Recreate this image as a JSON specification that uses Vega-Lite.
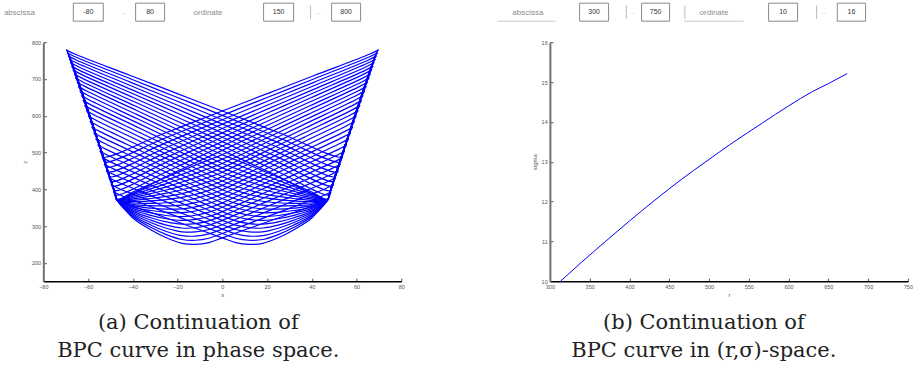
{
"$schema":"https://vega.github.io/schema/vega-lite/v6.json",
"background":"white",
"padding":{"left":3.3,"top":2.2,"right":0,"bottom":0},
"config":{
 "view":{"stroke":null},
 "axis":{"grid":false,"labelFont":"Liberation Sans","labelFontSize":5.5,"labelColor":"#555","titleFont":"Liberation Sans","titleFontSize":6,"titleFontWeight":"normal","titleColor":"#555","tickColor":"#222","tickSize":-3,"tickWidth":0.8,"labelPadding":6,"domainColor":"#000","domainWidth":1.5,"labelFlush":false,"labelOverlap":false},
 "axisY":{"domainColor":"#707070","domainWidth":2,"labelPadding":5.7,"titlePadding":4,"labelOverlap":false},
 "axisX":{"titlePadding":2}
},
"datasets":{
 "uiL":[
  {"t":"lab","a":-39.4,"v":"abscissa"},{"t":"box","a":30,"b":60},{"t":"val","a":45,"v":"-80"},{"t":"dash","a":81.3},{"t":"box","a":92.3,"b":121.3},{"t":"val","a":106.8,"v":"80"},
  {"t":"lab","a":150.3,"v":"ordinate"},{"t":"box","a":220.3,"b":250.3},{"t":"val","a":235.3,"v":"150"},{"t":"bar","a":267.3},{"t":"dash","a":275.3},{"t":"box","a":288.3,"b":317.3},{"t":"val","a":302.8,"v":"800"}
 ],
 "uiR":[
  {"t":"line","a":-52.6,"b":5.7},{"t":"lab","a":-37.6,"v":"abscissa"},{"t":"box","a":29.7,"b":58.7},{"t":"val","a":44.2,"v":"300"},{"t":"bar","a":76.4},{"t":"dash","a":82.7},{"t":"box","a":91.7,"b":119.7},{"t":"val","a":105.7,"v":"750"},
  {"t":"bar","a":135},{"t":"line","a":134.7,"b":193.7},{"t":"lab","a":149.7,"v":"ordinate"},{"t":"box","a":218.7,"b":247.7},{"t":"val","a":233.2,"v":"10"},{"t":"bar","a":266.7},{"t":"dash","a":273.7},{"t":"box","a":287.4,"b":315.7},{"t":"val","a":301.5,"v":"16"}
 ],
 "bpc":[
  {"r":313.4,"s":10.0},{"r":340,"s":10.48},{"r":370,"s":11.0},{"r":400,"s":11.51},{"r":431,"s":12.02},{"r":465,"s":12.55},{"r":496,"s":13.0},{"r":530,"s":13.48},{"r":567,"s":13.97},{"r":600,"s":14.4},{"r":630,"s":14.76},{"r":649,"s":14.95},{"r":673.6,"s":15.21}
 ],
 "orb":[
  {"o":0,"i":0,"x":-69.6,"z":778.5},{"o":0,"i":1,"x":-66.0,"z":768.0},{"o":0,"i":2,"x":-41.4,"z":710.2},{"o":0,"i":3,"x":-20.7,"z":661.6},{"o":0,"i":4,"x":0,"z":613.0},{"o":0,"i":5,"x":26.7,"z":550.4},{"o":0,"i":6,"x":53.3,"z":487.8},{"o":0,"i":6.5,"x":54.1,"z":502.8},{"o":0,"i":7,"x":68.2,"z":761.0},{"o":0,"i":8,"x":69.6,"z":778.5},
  {"o":1,"i":0,"x":-69.2,"z":770.5},{"o":1,"i":1,"x":-65.6,"z":759.7},{"o":1,"i":2,"x":-41.1,"z":700.6},{"o":1,"i":3,"x":-20.6,"z":650.9},{"o":1,"i":4,"x":0,"z":601.1},{"o":1,"i":5,"x":26.3,"z":537.5},{"o":1,"i":6,"x":52.6,"z":473.9},{"o":1,"i":6.5,"x":53.4,"z":488.9},{"o":1,"i":7,"x":67.8,"z":753.0},{"o":1,"i":8,"x":69.2,"z":770.5},
  {"o":2,"i":0,"x":-68.7,"z":762.1},{"o":2,"i":1,"x":-65.1,"z":751.1},{"o":2,"i":2,"x":-40.9,"z":690.8},{"o":2,"i":3,"x":-20.4,"z":640.0},{"o":2,"i":4,"x":0,"z":589.2},{"o":2,"i":5,"x":25.9,"z":524.8},{"o":2,"i":6,"x":51.8,"z":460.3},{"o":2,"i":6.5,"x":52.6,"z":475.3},{"o":2,"i":7,"x":67.3,"z":744.6},{"o":2,"i":8,"x":68.7,"z":762.1},
  {"o":3,"i":0,"x":-68.2,"z":753.2},{"o":3,"i":1,"x":-64.6,"z":742.1},{"o":3,"i":2,"x":-40.6,"z":680.7},{"o":3,"i":3,"x":-20.3,"z":629.0},{"o":3,"i":4,"x":0,"z":577.3},{"o":3,"i":5,"x":25.5,"z":512.2},{"o":3,"i":6,"x":51.1,"z":447.0},{"o":3,"i":6.5,"x":51.9,"z":462.0},{"o":3,"i":7,"x":66.8,"z":735.7},{"o":3,"i":8,"x":68.2,"z":753.2},
  {"o":4,"i":0,"x":-67.7,"z":743.9},{"o":4,"i":1,"x":-64.1,"z":732.6},{"o":4,"i":2,"x":-40.3,"z":670.4},{"o":4,"i":3,"x":-20.1,"z":617.9},{"o":4,"i":4,"x":0,"z":565.4},{"o":4,"i":5,"x":25.2,"z":499.7},{"o":4,"i":6,"x":50.4,"z":434.0},{"o":4,"i":6.5,"x":51.2,"z":449.0},{"o":4,"i":7,"x":66.3,"z":726.4},{"o":4,"i":8,"x":67.7,"z":743.9},
  {"o":5,"i":0,"x":-67.2,"z":734.2},{"o":5,"i":1,"x":-63.6,"z":722.7},{"o":5,"i":2,"x":-39.9,"z":659.8},{"o":5,"i":3,"x":-20.0,"z":606.7},{"o":5,"i":4,"x":0,"z":553.5},{"o":5,"i":5,"x":24.8,"z":487.4},{"o":5,"i":6,"x":49.7,"z":421.3},{"o":5,"i":6.5,"x":50.5,"z":436.3},{"o":5,"i":7,"x":65.8,"z":716.7},{"o":5,"i":8,"x":67.2,"z":734.2},
  {"o":6,"i":0,"x":-66.6,"z":724.1},{"o":6,"i":1,"x":-63.0,"z":712.5},{"o":6,"i":2,"x":-39.6,"z":649.0},{"o":6,"i":3,"x":-19.8,"z":595.3},{"o":6,"i":4,"x":0,"z":541.6},{"o":6,"i":5,"x":24.5,"z":475.2},{"o":6,"i":6,"x":49.0,"z":408.8},{"o":6,"i":6.5,"x":49.8,"z":423.8},{"o":6,"i":7,"x":65.2,"z":706.6},{"o":6,"i":8,"x":66.6,"z":724.1},
  {"o":7,"i":0,"x":-66.1,"z":713.5},{"o":7,"i":1,"x":-62.5,"z":701.7},{"o":7,"i":2,"x":-39.3,"z":637.9},{"o":7,"i":3,"x":-19.6,"z":583.8},{"o":7,"i":4,"x":0,"z":529.7},{"o":7,"i":5,"x":24.2,"z":463.1},{"o":7,"i":6,"x":48.3,"z":396.5},{"o":7,"i":6.5,"x":49.1,"z":411.5},{"o":7,"i":7,"x":64.7,"z":696.0},{"o":7,"i":8,"x":66.1,"z":713.5},
  {"o":8,"i":0,"x":-65.5,"z":702.5},{"o":8,"i":1,"x":-61.9,"z":690.6},{"o":8,"i":2,"x":-38.9,"z":626.5},{"o":8,"i":3,"x":-19.5,"z":572.2},{"o":8,"i":4,"x":0,"z":517.8},{"o":8,"i":5,"x":23.8,"z":451.2},{"o":8,"i":6,"x":47.7,"z":384.6},{"o":8,"i":6.5,"x":48.5,"z":399.6},{"o":8,"i":7,"x":64.1,"z":685.0},{"o":8,"i":8,"x":65.5,"z":702.5},
  {"o":9,"i":0,"x":-64.8,"z":691.1},{"o":9,"i":1,"x":-61.2,"z":679.1},{"o":9,"i":2,"x":-38.5,"z":614.9},{"o":9,"i":3,"x":-19.3,"z":560.4},{"o":9,"i":4,"x":0,"z":505.9},{"o":9,"i":5,"x":23.5,"z":439.4},{"o":9,"i":6,"x":47.0,"z":372.8},{"o":9,"i":6.5,"x":47.9,"z":387.8},{"o":9,"i":7,"x":63.4,"z":673.6},{"o":9,"i":8,"x":64.8,"z":691.1},
  {"o":10,"i":0,"x":-64.2,"z":679.2},{"o":10,"i":1,"x":-60.6,"z":667.1},{"o":10,"i":2,"x":-38.1,"z":603.0},{"o":10,"i":3,"x":-19.1,"z":548.5},{"o":10,"i":4,"x":0,"z":494.0},{"o":10,"i":5,"x":6,"z":480.1},{"o":10,"i":6,"x":12,"z":465.8},{"o":10,"i":7,"x":18,"z":450.8},{"o":10,"i":8,"x":25,"z":432.7},{"o":10,"i":9,"x":32,"z":414.1},{"o":10,"i":10,"x":40,"z":392.4},{"o":10,"i":11,"x":47,"z":372.0},{"o":10,"i":11.5,"x":48.0,"z":390},{"o":10,"i":12,"x":62.8,"z":661.7},{"o":10,"i":13,"x":64.2,"z":679.2},
  {"o":11,"i":0,"x":-63.5,"z":666.9},{"o":11,"i":1,"x":-59.9,"z":654.8},{"o":11,"i":2,"x":-37.7,"z":590.9},{"o":11,"i":3,"x":-18.9,"z":536.5},{"o":11,"i":4,"x":0,"z":482.1},{"o":11,"i":5,"x":6,"z":468.3},{"o":11,"i":6,"x":12,"z":454.4},{"o":11,"i":7,"x":18,"z":440.4},{"o":11,"i":8,"x":25,"z":424.0},{"o":11,"i":9,"x":32,"z":407.6},{"o":11,"i":10,"x":40,"z":388.7},{"o":11,"i":11,"x":47,"z":371.9},{"o":11,"i":11.5,"x":48.0,"z":390},{"o":11,"i":12,"x":62.1,"z":649.4},{"o":11,"i":13,"x":63.5,"z":666.9},
  {"o":12,"i":0,"x":-62.8,"z":654.2},{"o":12,"i":1,"x":-59.2,"z":642.0},{"o":12,"i":2,"x":-37.3,"z":578.5},{"o":12,"i":3,"x":-18.7,"z":524.4},{"o":12,"i":4,"x":0,"z":470.2},{"o":12,"i":5,"x":6,"z":456.5},{"o":12,"i":6,"x":12,"z":443.1},{"o":12,"i":7,"x":18,"z":430.1},{"o":12,"i":8,"x":25,"z":415.4},{"o":12,"i":9,"x":32,"z":401.0},{"o":12,"i":10,"x":40,"z":385.0},{"o":12,"i":11,"x":47,"z":371.8},{"o":12,"i":11.5,"x":48.0,"z":390},{"o":12,"i":12,"x":61.4,"z":636.7},{"o":12,"i":13,"x":62.8,"z":654.2},
  {"o":13,"i":0,"x":-62.1,"z":641.1},{"o":13,"i":1,"x":-58.5,"z":628.9},{"o":13,"i":2,"x":-36.9,"z":565.9},{"o":13,"i":3,"x":-18.5,"z":512.1},{"o":13,"i":4,"x":0,"z":458.3},{"o":13,"i":5,"x":6,"z":444.7},{"o":13,"i":6,"x":12,"z":431.8},{"o":13,"i":7,"x":18,"z":419.7},{"o":13,"i":8,"x":25,"z":406.7},{"o":13,"i":9,"x":32,"z":394.5},{"o":13,"i":10,"x":40,"z":381.3},{"o":13,"i":11,"x":47,"z":371.7},{"o":13,"i":11.5,"x":48.0,"z":390},{"o":13,"i":12,"x":60.7,"z":623.6},{"o":13,"i":13,"x":62.1,"z":641.1},
  {"o":14,"i":0,"x":-61.4,"z":627.5},{"o":14,"i":1,"x":-57.8,"z":615.2},{"o":14,"i":2,"x":-36.5,"z":553.0},{"o":14,"i":3,"x":-18.2,"z":499.7},{"o":14,"i":4,"x":0,"z":446.4},{"o":14,"i":5,"x":6,"z":432.8},{"o":14,"i":6,"x":12,"z":420.4},{"o":14,"i":7,"x":18,"z":409.3},{"o":14,"i":8,"x":25,"z":398.1},{"o":14,"i":9,"x":32,"z":388.0},{"o":14,"i":10,"x":40,"z":377.6},{"o":14,"i":11,"x":47,"z":371.6},{"o":14,"i":11.5,"x":48.0,"z":390},{"o":14,"i":12,"x":60.0,"z":610.0},{"o":14,"i":13,"x":61.4,"z":627.5},
  {"o":15,"i":0,"x":-60.6,"z":613.5},{"o":15,"i":1,"x":-57.0,"z":601.2},{"o":15,"i":2,"x":-36.0,"z":539.8},{"o":15,"i":3,"x":-18.0,"z":487.2},{"o":15,"i":4,"x":0,"z":434.5},{"o":15,"i":5,"x":6,"z":420.8},{"o":15,"i":6,"x":12,"z":408.9},{"o":15,"i":7,"x":18,"z":398.7},{"o":15,"i":8,"x":25,"z":389.3},{"o":15,"i":9,"x":32,"z":381.4},{"o":15,"i":10,"x":40,"z":373.8},{"o":15,"i":11,"x":47,"z":371.5},{"o":15,"i":11.5,"x":48.0,"z":390},{"o":15,"i":12,"x":59.2,"z":596.0},{"o":15,"i":13,"x":60.6,"z":613.5},
  {"o":16,"i":0,"x":-59.8,"z":599.1},{"o":16,"i":1,"x":-56.2,"z":586.8},{"o":16,"i":2,"x":-35.5,"z":526.4},{"o":16,"i":3,"x":-17.8,"z":474.5},{"o":16,"i":4,"x":0,"z":422.6},{"o":16,"i":5,"x":6,"z":409.0},{"o":16,"i":6,"x":12,"z":397.5},{"o":16,"i":7,"x":18,"z":388.3},{"o":16,"i":8,"x":25,"z":380.6},{"o":16,"i":9,"x":32,"z":374.9},{"o":16,"i":10,"x":40,"z":370.1},{"o":16,"i":11,"x":47,"z":371.4},{"o":16,"i":11.5,"x":48.0,"z":390},{"o":16,"i":12,"x":58.4,"z":581.6},{"o":16,"i":13,"x":59.8,"z":599.1},
  {"o":17,"i":0,"x":-59.0,"z":584.2},{"o":17,"i":1,"x":-55.4,"z":572.0},{"o":17,"i":2,"x":-35.0,"z":512.7},{"o":17,"i":3,"x":-17.5,"z":461.7},{"o":17,"i":4,"x":0,"z":410.7},{"o":17,"i":5,"x":6,"z":397.1},{"o":17,"i":6,"x":12,"z":386.2},{"o":17,"i":7,"x":18,"z":377.9},{"o":17,"i":8,"x":25,"z":372.0},{"o":17,"i":9,"x":32,"z":368.3},{"o":17,"i":10,"x":40,"z":366.4},{"o":17,"i":11,"x":47,"z":371.3},{"o":17,"i":11.5,"x":48.0,"z":390},{"o":17,"i":12,"x":57.6,"z":566.7},{"o":17,"i":13,"x":59.0,"z":584.2},
  {"o":18,"i":0,"x":-58.2,"z":568.9},{"o":18,"i":1,"x":-54.6,"z":556.7},{"o":18,"i":2,"x":-34.5,"z":498.8},{"o":18,"i":3,"x":-17.3,"z":448.8},{"o":18,"i":4,"x":0,"z":398.8},{"o":18,"i":5,"x":6,"z":385.3},{"o":18,"i":6,"x":12,"z":374.9},{"o":18,"i":7,"x":18,"z":367.5},{"o":18,"i":8,"x":25,"z":363.3},{"o":18,"i":9,"x":32,"z":361.8},{"o":18,"i":10,"x":40,"z":362.7},{"o":18,"i":11,"x":47,"z":371.2},{"o":18,"i":11.5,"x":48.0,"z":390},{"o":18,"i":12,"x":56.8,"z":551.4},{"o":18,"i":13,"x":58.2,"z":568.9},
  {"o":19,"i":0,"x":-57.3,"z":553.2},{"o":19,"i":1,"x":-53.7,"z":541.1},{"o":19,"i":2,"x":-34.0,"z":484.6},{"o":19,"i":3,"x":-17.0,"z":435.7},{"o":19,"i":4,"x":0,"z":386.9},{"o":19,"i":5,"x":6,"z":373.5},{"o":19,"i":6,"x":12,"z":363.5},{"o":19,"i":7,"x":18,"z":357.1},{"o":19,"i":8,"x":25,"z":354.7},{"o":19,"i":9,"x":32,"z":355.3},{"o":19,"i":10,"x":40,"z":359.0},{"o":19,"i":11,"x":47,"z":371.1},{"o":19,"i":11.5,"x":48.0,"z":390},{"o":19,"i":12,"x":55.9,"z":535.7},{"o":19,"i":13,"x":57.3,"z":553.2},
  {"o":20,"i":0,"x":-56.4,"z":537.1},{"o":20,"i":1,"x":-52.8,"z":525.1},{"o":20,"i":2,"x":-33.5,"z":470.2},{"o":20,"i":3,"x":-16.7,"z":422.6},{"o":20,"i":4,"x":0,"z":375.0},{"o":20,"i":5,"x":6,"z":361.7},{"o":20,"i":6,"x":12,"z":352.2},{"o":20,"i":7,"x":18,"z":346.7},{"o":20,"i":8,"x":25,"z":346.0},{"o":20,"i":9,"x":32,"z":348.8},{"o":20,"i":10,"x":40,"z":355.3},{"o":20,"i":11,"x":47,"z":371.0},{"o":20,"i":11.5,"x":48.0,"z":390},{"o":20,"i":12,"x":55.0,"z":519.6},{"o":20,"i":13,"x":56.4,"z":537.1},
  {"o":21,"i":0,"x":-55.5,"z":520.5},{"o":21,"i":1,"x":-51.9,"z":508.6},{"o":21,"i":2,"x":-32.9,"z":455.4},{"o":21,"i":3,"x":-16.5,"z":409.3},{"o":21,"i":4,"x":0,"z":363.1},{"o":21,"i":5,"x":6,"z":349.8},{"o":21,"i":6,"x":12,"z":340.9},{"o":21,"i":7,"x":18,"z":336.3},{"o":21,"i":8,"x":25,"z":337.4},{"o":21,"i":9,"x":32,"z":342.3},{"o":21,"i":10,"x":40,"z":351.6},{"o":21,"i":11,"x":47,"z":370.9},{"o":21,"i":11.5,"x":48.0,"z":390},{"o":21,"i":12,"x":54.1,"z":503.0},{"o":21,"i":13,"x":55.5,"z":520.5},
  {"o":22,"i":0,"x":-54.6,"z":503.5},{"o":22,"i":1,"x":-51.0,"z":491.7},{"o":22,"i":2,"x":-32.4,"z":440.5},{"o":22,"i":3,"x":-16.2,"z":395.8},{"o":22,"i":4,"x":0,"z":351.2},{"o":22,"i":5,"x":6,"z":337.8},{"o":22,"i":6,"x":12,"z":329.3},{"o":22,"i":7,"x":18,"z":325.8},{"o":22,"i":8,"x":25,"z":328.6},{"o":22,"i":9,"x":32,"z":335.6},{"o":22,"i":10,"x":40,"z":347.9},{"o":22,"i":11,"x":47,"z":370.7},{"o":22,"i":11.5,"x":48.0,"z":390},{"o":22,"i":12,"x":53.2,"z":486.0},{"o":22,"i":13,"x":54.6,"z":503.5},
  {"o":23,"i":0,"x":-53.6,"z":486.1},{"o":23,"i":1,"x":-50.0,"z":474.5},{"o":23,"i":2,"x":-31.8,"z":425.3},{"o":23,"i":3,"x":-15.9,"z":382.3},{"o":23,"i":4,"x":0,"z":339.3},{"o":23,"i":5,"x":6,"z":326.0},{"o":23,"i":6,"x":12,"z":318.0},{"o":23,"i":7,"x":18,"z":315.4},{"o":23,"i":8,"x":25,"z":319.9},{"o":23,"i":9,"x":32,"z":329.1},{"o":23,"i":10,"x":40,"z":344.2},{"o":23,"i":11,"x":47,"z":370.6},{"o":23,"i":11.5,"x":48.0,"z":390},{"o":23,"i":12,"x":52.2,"z":468.6},{"o":23,"i":13,"x":53.6,"z":486.1},
  {"o":24,"i":0,"x":-52.7,"z":468.2},{"o":24,"i":1,"x":-49.1,"z":456.8},{"o":24,"i":2,"x":-31.2,"z":409.8},{"o":24,"i":3,"x":-15.6,"z":368.6},{"o":24,"i":4,"x":0,"z":327.4},{"o":24,"i":5,"x":6,"z":314.1},{"o":24,"i":6,"x":12,"z":306.7},{"o":24,"i":7,"x":18,"z":305.0},{"o":24,"i":8,"x":25,"z":311.3},{"o":24,"i":9,"x":32,"z":322.6},{"o":24,"i":10,"x":40,"z":340.5},{"o":24,"i":11,"x":47,"z":370.5},{"o":24,"i":11.5,"x":48.0,"z":390},{"o":24,"i":12,"x":51.3,"z":450.7},{"o":24,"i":13,"x":52.7,"z":468.2},
  {"o":25,"i":0,"x":-51.7,"z":449.9},{"o":25,"i":1,"x":-48.1,"z":438.7},{"o":25,"i":2,"x":-30.6,"z":394.0},{"o":25,"i":3,"x":-15.3,"z":354.8},{"o":25,"i":4,"x":0,"z":315.5},{"o":25,"i":5,"x":6,"z":302.3},{"o":25,"i":6,"x":12,"z":295.3},{"o":25,"i":7,"x":18,"z":294.6},{"o":25,"i":8,"x":25,"z":302.6},{"o":25,"i":9,"x":32,"z":316.1},{"o":25,"i":10,"x":40,"z":336.8},{"o":25,"i":11,"x":47,"z":370.4},{"o":25,"i":11.5,"x":48.0,"z":390},{"o":25,"i":12,"x":50.3,"z":432.4},{"o":25,"i":13,"x":51.7,"z":449.9},
  {"o":26,"i":0,"x":-50.6,"z":431.2},{"o":26,"i":1,"x":-47.0,"z":420.3},{"o":26,"i":2,"x":-30.0,"z":378.1},{"o":26,"i":3,"x":-15.0,"z":340.8},{"o":26,"i":4,"x":0,"z":303.6},{"o":26,"i":5,"x":6,"z":290.5},{"o":26,"i":6,"x":12,"z":284.0},{"o":26,"i":7,"x":18,"z":284.2},{"o":26,"i":8,"x":25,"z":294.0},{"o":26,"i":9,"x":32,"z":309.6},{"o":26,"i":10,"x":40,"z":333.1},{"o":26,"i":11,"x":47,"z":370.3},{"o":26,"i":11.5,"x":48.0,"z":390},{"o":26,"i":12,"x":49.2,"z":413.7},{"o":26,"i":13,"x":50.6,"z":431.2},
  {"o":27,"i":0,"x":-49.6,"z":412.1},{"o":27,"i":1,"x":-46.0,"z":401.4},{"o":27,"i":2,"x":-29.4,"z":361.8},{"o":27,"i":3,"x":-14.7,"z":326.8},{"o":27,"i":4,"x":0,"z":291.7},{"o":27,"i":5,"x":6,"z":278.7},{"o":27,"i":6,"x":12,"z":272.7},{"o":27,"i":7,"x":18,"z":273.8},{"o":27,"i":8,"x":25,"z":285.3},{"o":27,"i":9,"x":32,"z":303.0},{"o":27,"i":10,"x":40,"z":329.4},{"o":27,"i":11,"x":47,"z":370.2},{"o":27,"i":11.5,"x":48.0,"z":390},{"o":27,"i":13,"x":49.6,"z":412.1},
  {"o":28,"i":0,"x":-48.5,"z":392.5},{"o":28,"i":1,"x":-44.9,"z":382.2},{"o":28,"i":2,"x":-28.8,"z":345.3},{"o":28,"i":3,"x":-14.4,"z":312.6},{"o":28,"i":4,"x":0,"z":279.8},{"o":28,"i":5,"x":6,"z":266.8},{"o":28,"i":6,"x":12,"z":261.3},{"o":28,"i":7,"x":18,"z":263.4},{"o":28,"i":8,"x":25,"z":276.6},{"o":28,"i":9,"x":32,"z":296.5},{"o":28,"i":10,"x":40,"z":325.7},{"o":28,"i":11,"x":47,"z":370.1},{"o":28,"i":13,"x":48.5,"z":392.5},
  {"o":29,"i":0,"x":-47.4,"z":372.5},{"o":29,"i":1,"x":-43.8,"z":362.5},{"o":29,"i":2,"x":-28.1,"z":328.6},{"o":29,"i":3,"x":-14.0,"z":298.2},{"o":29,"i":4,"x":0,"z":267.9},{"o":29,"i":5,"x":6,"z":255.0},{"o":29,"i":6,"x":12,"z":250.0},{"o":29,"i":7,"x":18,"z":253.0},{"o":29,"i":8,"x":25,"z":268.0},{"o":29,"i":9,"x":32,"z":290.0},{"o":29,"i":10,"x":40,"z":322.0},{"o":29,"i":11,"x":47,"z":370.0},{"o":29,"i":13,"x":47.4,"z":372.5}
 ]
},
"columns":2,
"spacing":{"row":21,"column":148.6},
"bounds":"flush",
"concat":[
  {"width":358,"height":18,"data":{"name":"uiL"},
   "layer":[
    {"transform":[{"filter":"datum.t === 'box'"}],"mark":{"type":"rect","fill":"white","stroke":"#8a8a8a","strokeWidth":1},
     "encoding":{"x":{"field":"a","type":"quantitative","scale":{"domain":[0,358],"nice":false,"zero":false},"axis":null},"x2":{"field":"b"},"y":{"datum":0,"type":"quantitative","scale":{"domain":[0,1]},"axis":null},"y2":{"datum":1}}},
    {"transform":[{"filter":"datum.t === 'val'"}],"mark":{"type":"text","font":"Liberation Sans","fontSize":7,"color":"#333","align":"center","baseline":"middle"},
     "encoding":{"x":{"field":"a","type":"quantitative"},"y":{"datum":0.5,"type":"quantitative"},"text":{"field":"v"}}},
    {"transform":[{"filter":"datum.t === 'lab'"}],"mark":{"type":"text","font":"Liberation Sans","fontSize":8,"color":"#8c8c8c","align":"left","baseline":"middle"},
     "encoding":{"x":{"field":"a","type":"quantitative"},"y":{"datum":0.44,"type":"quantitative"},"text":{"field":"v"}}},
    {"transform":[{"filter":"datum.t === 'dash'"}],"mark":{"type":"text","font":"Liberation Sans","fontSize":6,"color":"#bbbbbb","align":"center","baseline":"middle","text":"--"},
     "encoding":{"x":{"field":"a","type":"quantitative"},"y":{"datum":0.45,"type":"quantitative"}}},
    {"transform":[{"filter":"datum.t === 'bar'"}],"mark":{"type":"rule","color":"#aaaaaa","strokeWidth":0.8},
     "encoding":{"x":{"field":"a","type":"quantitative"},"y":{"datum":0.12,"type":"quantitative"},"y2":{"datum":0.88}}}
   ]},
  {"width":358,"height":18,"data":{"name":"uiR"},
   "layer":[
    {"transform":[{"filter":"datum.t === 'box'"}],"mark":{"type":"rect","fill":"white","stroke":"#8a8a8a","strokeWidth":1},
     "encoding":{"x":{"field":"a","type":"quantitative","scale":{"domain":[0,358],"nice":false,"zero":false},"axis":null},"x2":{"field":"b"},"y":{"datum":0,"type":"quantitative","scale":{"domain":[0,1]},"axis":null},"y2":{"datum":1}}},
    {"transform":[{"filter":"datum.t === 'val'"}],"mark":{"type":"text","font":"Liberation Sans","fontSize":7,"color":"#333","align":"center","baseline":"middle"},
     "encoding":{"x":{"field":"a","type":"quantitative"},"y":{"datum":0.5,"type":"quantitative"},"text":{"field":"v"}}},
    {"transform":[{"filter":"datum.t === 'lab'"}],"mark":{"type":"text","font":"Liberation Sans","fontSize":8,"color":"#8c8c8c","align":"left","baseline":"middle"},
     "encoding":{"x":{"field":"a","type":"quantitative"},"y":{"datum":0.44,"type":"quantitative"},"text":{"field":"v"}}},
    {"transform":[{"filter":"datum.t === 'dash'"}],"mark":{"type":"text","font":"Liberation Sans","fontSize":6,"color":"#bbbbbb","align":"center","baseline":"middle","text":"--"},
     "encoding":{"x":{"field":"a","type":"quantitative"},"y":{"datum":0.45,"type":"quantitative"}}},
    {"transform":[{"filter":"datum.t === 'bar'"}],"mark":{"type":"rule","color":"#aaaaaa","strokeWidth":0.8},
     "encoding":{"x":{"field":"a","type":"quantitative"},"y":{"datum":0.12,"type":"quantitative"},"y2":{"datum":0.88}}},
    {"transform":[{"filter":"datum.t === 'line'"}],"mark":{"type":"rule","color":"#bbbbbb","strokeWidth":0.8},
     "encoding":{"x":{"field":"a","type":"quantitative"},"x2":{"field":"b"},"y":{"datum":0,"type":"quantitative"}}}
   ]},
  {"width":358,"height":239,"data":{"name":"orb"},
   "title":{"text":["(a) Continuation of","BPC curve in phase space."],"orient":"bottom","anchor":"middle","dx":-24,"offset":14,"font":"DejaVu Serif","fontSize":21,"fontWeight":"normal","color":"#222","lineHeight":28.3},
   "layer":[
    {"mark":{"type":"line","interpolate":"catmull-rom","color":"#0000ff","strokeWidth":1.2,"strokeCap":"round","clip":false},
     "encoding":{"x":{"field":"x","type":"quantitative","scale":{"domain":[-80,80],"nice":false,"zero":false},"axis":{"values":[-80,-60,-40,-20,0,20,40,60,80],"title":"x"}},
      "y":{"field":"z","type":"quantitative","scale":{"domain":[150,800],"nice":false,"zero":false},"axis":{"values":[200,300,400,500,600,700,800],"title":"z","labelOverlap":false}},
      "detail":{"field":"o","type":"nominal"},"order":{"field":"i","type":"quantitative"}}},
    {"mark":{"type":"line","interpolate":"catmull-rom","color":"#0000ff","strokeWidth":1.2,"strokeCap":"round","clip":false},
     "encoding":{"x":{"field":"x","type":"quantitative","scale":{"domain":[-80,80],"nice":false,"zero":false,"reverse":true},"axis":null},
      "y":{"field":"z","type":"quantitative","axis":{"values":[200,300,400,500,600,700,800],"title":"z","labelOverlap":false}},
      "detail":{"field":"o","type":"nominal"},"order":{"field":"i","type":"quantitative"}}}
   ],
   "resolve":{"scale":{"x":"independent"}}},
  {"width":358,"height":239,"data":{"name":"bpc"},
   "title":{"text":["(b) Continuation of","BPC curve in (r,σ)-space."],"orient":"bottom","anchor":"middle","dx":-25,"offset":14,"font":"DejaVu Serif","fontSize":21,"fontWeight":"normal","color":"#222","lineHeight":28.3},
   "mark":{"type":"line","interpolate":"monotone","color":"#0000ff","strokeWidth":1,"clip":false},
   "encoding":{"x":{"field":"r","type":"quantitative","scale":{"domain":[300,750],"nice":false,"zero":false},"axis":{"values":[300,350,400,450,500,550,600,650,700,750],"title":"r"}},
    "y":{"field":"s","type":"quantitative","scale":{"domain":[10,16],"nice":false,"zero":false},"axis":{"values":[10,11,12,13,14,15,16],"title":"sigma"}}}}
]
}
